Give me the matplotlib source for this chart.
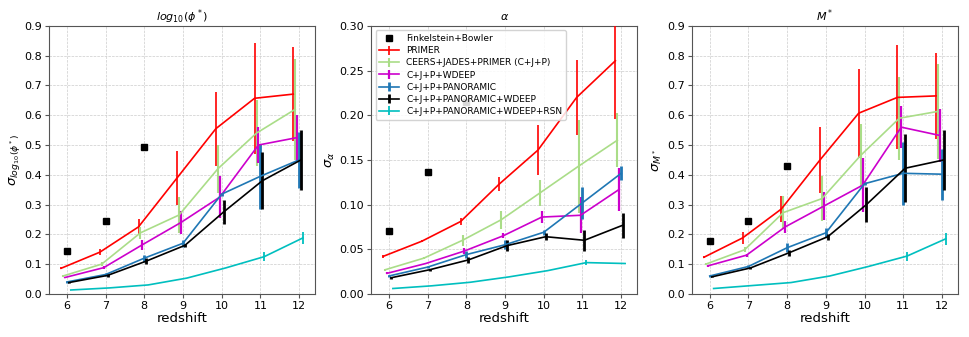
import numpy as np
import matplotlib
matplotlib.use('Agg')
import matplotlib.pyplot as plt

z = np.array([6, 7, 8, 9, 10, 11, 12])
z_fb = [6, 7, 8]

labels = ['PRIMER', 'CEERS+JADES+PRIMER (C+J+P)', 'C+J+P+WDEEP', 'C+J+P+PANORAMIC',
          'C+J+P+PANORAMIC+WDEEP', 'C+J+P+PANORAMIC+WDEEP+RSN']
colors = ['r', '#aadd88', '#cc00cc', '#1f77b4', 'k', '#00bfbf']
offsets = [-0.15, -0.1, -0.05, 0.0, 0.05, 0.1]
elw = [1.2, 1.5, 1.6, 2.0, 2.0, 1.3]

# log10(phi*)
fb_phi = [0.143, 0.245, 0.492]
phi_val = [
    [0.086, 0.140, 0.225, 0.390, 0.555, 0.657, 0.671],
    [0.060, 0.100, 0.205, 0.265, 0.420, 0.540, 0.620],
    [0.055, 0.088, 0.165, 0.240, 0.325, 0.500, 0.525],
    [0.040, 0.065, 0.120, 0.170, 0.335, 0.395, 0.450],
    [0.038, 0.062, 0.110, 0.163, 0.275, 0.380, 0.450],
    [0.013, 0.020, 0.030, 0.053, 0.087, 0.125, 0.188],
]
phi_err = [
    [0.003, 0.011, 0.027, 0.091, 0.124, 0.186, 0.159],
    [0.003, 0.006, 0.020, 0.060, 0.080, 0.110, 0.170],
    [0.003, 0.005, 0.017, 0.040, 0.070, 0.060, 0.077],
    [0.002, 0.004, 0.012, 0.012, 0.005, 0.110, 0.095],
    [0.002, 0.004, 0.010, 0.006, 0.040, 0.095, 0.100],
    [0.000, 0.000, 0.000, 0.000, 0.000, 0.015, 0.020],
]

# alpha
fb_alpha = [0.070, 0.137, 0.215]
alpha_val = [
    [0.042, 0.059, 0.081, 0.123, 0.161, 0.220, 0.261],
    [0.027, 0.040, 0.060, 0.083, 0.113, 0.143, 0.172],
    [0.023, 0.034, 0.048, 0.065, 0.086, 0.088, 0.117],
    [0.020, 0.030, 0.044, 0.055, 0.069, 0.102, 0.135],
    [0.018, 0.027, 0.038, 0.054, 0.064, 0.060, 0.077],
    [0.006, 0.009, 0.013, 0.019, 0.026, 0.035, 0.034],
]
alpha_err = [
    [0.002, 0.001, 0.004, 0.008, 0.028, 0.042, 0.065],
    [0.001, 0.001, 0.006, 0.010, 0.015, 0.052, 0.030],
    [0.001, 0.001, 0.003, 0.003, 0.007, 0.020, 0.024],
    [0.001, 0.001, 0.004, 0.005, 0.003, 0.018, 0.008],
    [0.001, 0.001, 0.003, 0.006, 0.004, 0.012, 0.014],
    [0.000, 0.000, 0.000, 0.000, 0.000, 0.003, 0.001],
]

# M*
fb_mstar = [0.176, 0.245, 0.430]
mstar_val = [
    [0.123, 0.188, 0.285, 0.450, 0.607, 0.660, 0.665],
    [0.100, 0.148, 0.273, 0.320, 0.465, 0.590, 0.613],
    [0.094, 0.130, 0.225, 0.295, 0.365, 0.560, 0.532],
    [0.060, 0.092, 0.155, 0.205, 0.370, 0.405, 0.402],
    [0.057, 0.087, 0.138, 0.192, 0.300, 0.422, 0.450],
    [0.018, 0.028, 0.038, 0.060, 0.092, 0.127, 0.185],
]
mstar_err = [
    [0.003, 0.020, 0.045, 0.110, 0.150, 0.175, 0.145],
    [0.003, 0.008, 0.055, 0.075, 0.105, 0.140, 0.160],
    [0.003, 0.005, 0.020, 0.048, 0.090, 0.070, 0.088],
    [0.002, 0.004, 0.015, 0.015, 0.005, 0.105, 0.086],
    [0.002, 0.003, 0.010, 0.010, 0.060, 0.115, 0.100],
    [0.000, 0.000, 0.000, 0.000, 0.000, 0.015, 0.020],
]

panels = [
    (fb_phi, phi_val, phi_err, r'$log_{10}(\phi^*)$', r'$\sigma_{log_{10}(\phi^*)}$', 0.9),
    (fb_alpha, alpha_val, alpha_err, r'$\alpha$', r'$\sigma_\alpha$', 0.3),
    (fb_mstar, mstar_val, mstar_err, r'$M^*$', r'$\sigma_{M^*}$', 0.9),
]

fig = plt.figure(figsize=(9.69, 3.37), dpi=100)
lefts = [0.0506, 0.383, 0.714]
for k, (fb, vals, errs, title, ylab, ymax) in enumerate(panels):
    ax = fig.add_axes([lefts[k], 0.128, 0.2745, 0.795])
    ax.grid(True, linestyle='--', linewidth=0.5, color='#cccccc', zorder=0)
    ax.set_axisbelow(True)
    ax.plot(z_fb, fb, 's', color='k', ms=5, label='Finkelstein+Bowler', zorder=3)
    for i in range(len(labels)):
        ax.errorbar(z + offsets[i], vals[i], yerr=errs[i], color=colors[i], lw=1.2,
                    elinewidth=elw[i], label=labels[i], zorder=4)
    ax.set_ylim(0, ymax)
    ax.set_xticks(z)
    ax.set_title(title, fontsize=8, pad=4)
    ax.set_ylabel(ylab, fontsize=9.5, labelpad=2)
    ax.set_xlabel('redshift', fontsize=9.5, labelpad=1)
    ax.tick_params(labelsize=8, length=3, color='#555555', pad=2)
    for s in ax.spines.values():
        s.set_color('#555555')
    if k == 1:
        leg = ax.legend(loc='upper left', fontsize=6.5, framealpha=0.85, labelspacing=0.35,
                        handlelength=2.2, borderpad=0.4)
        leg.set_zorder(10)

fig.savefig('out.png', dpi=100)
